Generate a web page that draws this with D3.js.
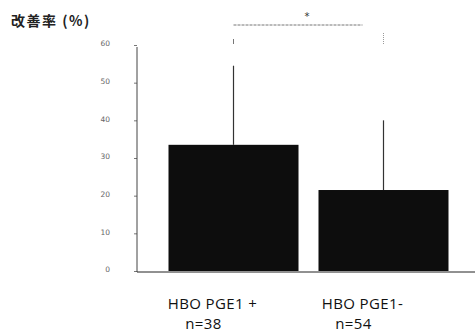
<!DOCTYPE html>
<html>
<head>
<meta charset="utf-8">
<script src="https://cdn.jsdelivr.net/npm/d3@7"></script>
<style>
  body { margin:0; background:#fff; }
  .axis text { font-family:"DejaVu Sans", sans-serif; font-size:7.5px; fill:#666; }
  .cat { font-family:"Open Sans", "Noto Sans", sans-serif; font-size:15px; letter-spacing:0.4px; fill:#111; }
</style>
</head>
<body>
<div id="canvas"></div>
<script>
// data
var groups = ['HBO PGE1 +', 'HBO PGE1-'];
var counts = ['n=38', 'n=54'];
var means = [33.5, 21.5];
var sds = [21, 18.5];
var yTicks = [0, 10, 20, 30, 40, 50, 60];

var W = 475, H = 333;
var svg = d3.select('#canvas').append('svg')
    .attr('width', W).attr('height', H);

var scaleX = d3.scaleBand()
    .domain(groups)
    .range([148, 469])
    .paddingInner(0.1333)
    .paddingOuter(0.1367);

var scaleY = d3.scaleLinear()
    .domain([0, 60])
    .range([271, 45]);

// title
svg.append('text')
    .attr('x', 11).attr('y', 26)
    .style('font-family', '"Noto Sans CJK JP", sans-serif')
    .style('font-weight', 'bold')
    .style('font-size', '14px')
    .style('letter-spacing', '1.5px')
    .attr('fill', '#222')
    .text('改善率 (%)');

// y axis
var axisY = d3.axisLeft(scaleY)
    .tickValues(yTicks)
    .tickSize(3)
    .tickPadding(24);

var gy = svg.append('g')
    .attr('class', 'axis')
    .attr('transform', 'translate(137,0)')
    .call(axisY);
gy.select('.domain').remove();
gy.selectAll('.tick line').attr('stroke', '#777');
gy.selectAll('.tick text').attr('dy', '0.1em');

svg.append('line')
    .attr('x1', 137).attr('x2', 137)
    .attr('y1', 47).attr('y2', scaleY(0) + 1)
    .attr('stroke', '#444').attr('stroke-width', 1);

// bars
svg.selectAll('.bar')
    .data(groups)
    .enter().append('rect')
    .attr('class', 'bar')
    .attr('x', function(d){ return scaleX(d); })
    .attr('y', function(d, i){ return scaleY(means[i]); })
    .attr('width', scaleX.bandwidth())
    .attr('height', function(d, i){ return scaleY(0) - scaleY(means[i]); })
    .attr('fill', '#0d0d0d');

// error bars (upper only)
svg.selectAll('.err')
    .data(groups)
    .enter().append('line')
    .attr('class', 'err')
    .attr('x1', function(d){ return scaleX(d) + scaleX.bandwidth() / 2; })
    .attr('x2', function(d){ return scaleX(d) + scaleX.bandwidth() / 2; })
    .attr('y1', function(d, i){ return scaleY(means[i]); })
    .attr('y2', function(d, i){ return scaleY(means[i] + sds[i]); })
    .attr('stroke', '#333').attr('stroke-width', 1.2);

// baseline
svg.append('line')
    .attr('x1', 137).attr('x2', W)
    .attr('y1', scaleY(0) + 1).attr('y2', scaleY(0) + 1)
    .attr('stroke', '#222').attr('stroke-width', 1);

// significance bracket
var c1 = scaleX(groups[0]) + scaleX.bandwidth() / 2,
    c2 = scaleX(groups[1]) + scaleX.bandwidth() / 2;
svg.append('line')
    .attr('x1', c1).attr('x2', c1 + (c2 - c1) * 0.86)
    .attr('y1', 25).attr('y2', 25)
    .attr('stroke', '#777').attr('stroke-width', 1)
    .attr('stroke-dasharray', '3,1');
svg.append('line')
    .attr('x1', c1).attr('x2', c1)
    .attr('y1', 39).attr('y2', 44)
    .attr('stroke', '#777').attr('stroke-width', 1);
svg.append('line')
    .attr('x1', c2).attr('x2', c2)
    .attr('y1', 33).attr('y2', 44)
    .attr('stroke', '#999').attr('stroke-width', 1)
    .attr('stroke-dasharray', '1,1');
svg.append('text')
    .attr('x', c1 + (c2 - c1) * 0.49).attr('y', 20)
    .attr('text-anchor', 'middle')
    .style('font-family', '"DejaVu Sans", sans-serif')
    .style('font-size', '10px')
    .attr('fill', '#333')
    .text('*');

// category labels
var labels = svg.selectAll('.label')
    .data(groups)
    .enter().append('g')
    .attr('class', 'label')
    .attr('transform', function(d){
        return 'translate(' + (scaleX(d) + scaleX.bandwidth() / 2 - 21) + ',0)';
    });
labels.append('text')
    .attr('class', 'cat')
    .attr('y', 309)
    .attr('text-anchor', 'middle')
    .text(function(d){ return d; });
labels.append('text')
    .attr('class', 'cat')
    .attr('x', -9)
    .attr('y', 329)
    .attr('text-anchor', 'middle')
    .text(function(d, i){ return counts[i]; });
</script>
</body>
</html>
